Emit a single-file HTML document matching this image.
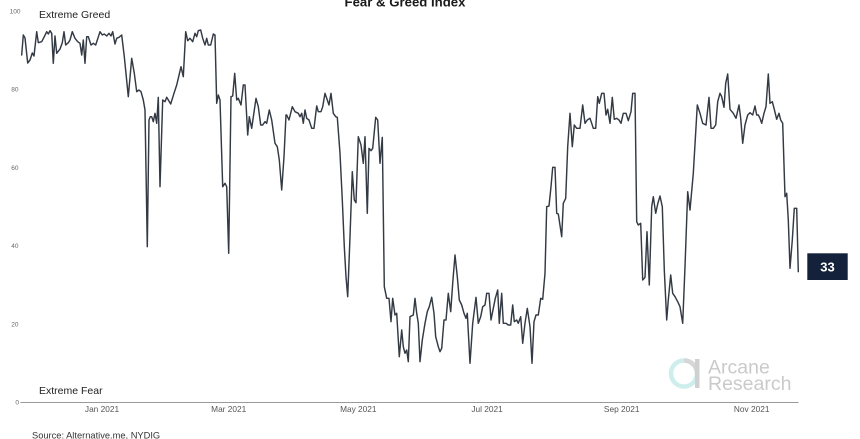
<!DOCTYPE html>
<html>
<head>
<meta charset="utf-8">
<style>
  html, body { margin:0; padding:0; background:#ffffff; }
  body { width:860px; height:439px; overflow:hidden; }
  svg { display:block; }
  text { font-family: "Liberation Sans", "DejaVu Sans", sans-serif; }
</style>
</head>
<body>
<svg width="860" height="439" viewBox="0 0 860 439" xmlns="http://www.w3.org/2000/svg">
  <rect x="0" y="0" width="860" height="439" fill="#ffffff"/>

  <!-- Title (cut at top) -->
  <text x="405" y="6.5" font-size="13.2" font-weight="bold" fill="#1b1b1b" text-anchor="middle">Fear &amp; Greed Index</text>

  <!-- Y axis labels -->
  <g font-size="6.5" fill="#666" text-anchor="end">
    <text x="20.5" y="13.3">100</text>
    <text x="18.5" y="91.5">80</text>
    <text x="18.5" y="169.8">60</text>
    <text x="18.5" y="248">40</text>
    <text x="18.5" y="326.3">20</text>
    <text x="19" y="404.7">0</text>
  </g>

  <!-- Zone labels -->
  <text x="39" y="17.8" font-size="10.5" fill="#222">Extreme Greed</text>
  <text x="39" y="393.8" font-size="10.5" fill="#222">Extreme Fear</text>

  <!-- Watermark -->
  <g>
    <circle cx="684" cy="373.5" r="13" fill="none" stroke="#cdeeed" stroke-width="4.5"/>
    <path d="M 684 360.5 A 13 13 0 0 1 697 373.5" fill="none" stroke="#d6d6d6" stroke-width="4.5"/>
    <rect x="695" y="359" width="4.5" height="29" fill="#d0d0d0"/>
    <text x="708" y="373.5" font-size="19.5" fill="#cacaca">Arcane</text>
    <text x="708" y="390" font-size="19.5" fill="#cacaca">Research</text>
  </g>

  <!-- X axis -->
  <line x1="20.5" y1="402.5" x2="798.5" y2="402.5" stroke="#9a9a9a" stroke-width="1"/>
  <g font-size="8.3" fill="#555" text-anchor="middle">
    <text x="102" y="412">Jan 2021</text>
    <text x="228.7" y="412">Mar 2021</text>
    <text x="358.3" y="412">May 2021</text>
    <text x="487" y="412">Jul 2021</text>
    <text x="621.7" y="412">Sep 2021</text>
    <text x="751.7" y="412">Nov 2021</text>
  </g>

  <!-- Source -->
  <text x="32" y="438.5" font-size="9.3" fill="#333">Source: Alternative.me, NYDIG</text>

  <!-- Series -->
  <polyline fill="none" stroke="#333a44" stroke-width="1.45" stroke-linejoin="round" stroke-linecap="round" points="
21.7,55 23.3,35 25,38 27.7,63 30,60 32.3,53 34,56 36.7,31.7 38.3,42.7 41.7,41.7 44.3,36.7 46.7,31.7 48.3,34 50,30.7 51.7,33.3 53.3,63.3 55,36 56.7,53.3 60,49 62.3,42.7 64,31.7 65.7,45 68.3,42.7 70,40 72.3,31.7 75,38.3 77.7,41.7 80,43.3 81.7,55 83.3,40 85,63.3 86.7,36.7 88.3,36.7 91,45 93.3,43.3 95.7,45 100,31.7 102.3,35 104.3,34 106.7,36 109,33.3 111,36 112.7,31.7 115,44 116.7,38.3 119,37.3 121.7,35 124.3,56.7 128.3,96.7 131.7,58.3 134.3,73.3 136.7,91.7 139,90 141,91.7 143.3,100 145,110 147.3,246.7 149,120 150.3,116.7
151.7,116.7 153.3,121.7 155,113.3 156.7,123.3 158.3,97.3 160,186.7 162.7,100 165,101.7 166.7,97.3 170.7,104 174,93.3 176.7,85 178.3,78.3 181,66.7 183.3,76.7 185.7,31.7 187.7,40.7 190,38.3 192.7,41.7 195,33.3 196.7,36.7 198.3,30.7 200.7,30 202.7,38.3 205,45 206.7,38.3 208.3,45 210.7,45 213.3,34 215,35 216.7,103.3 218.3,95 220,100 222.7,186.7 225,183.3 226.7,186.7 228.7,253.3 231,96.7 232.7,96 234.7,73.3 236.7,100 238.3,98.3 241,105 243.3,85 245,85 247.7,135 249.3,116.7 251.7,128.3 256,98.3 258.3,106.7 260.7,125 262.7,125 265,121.7 266.7,123.3 269.3,110 271.7,120 275,143.3 277.3,146.7 279.3,160 281.7,190 284,156.7 286,115
286.7,115 289,120 292.3,106.7 295,111.7 298.3,113.3 300,116.7 301.7,113.3 303.3,123.3 305,110 306.7,118.3 309,120 311.7,128.3 314,128.3 316.7,106 318.3,111.7 321,111.7 322.7,106.7 325,93.3 327.3,100 329,105 331,93.3 333.3,113.3 335.7,116.7 337.3,117.3 340,153.3 342.3,200 344.3,246.7 346,276.7 347.7,296.7 350,236.7 352.3,171.7 354.3,200 356,202.7 358.3,136.7 361,145 363.3,163.3 365,136.7 367.3,213.3 369,148.3 371,150.7 372.7,148.3 375.7,117.3 377.7,120 380,163.3 382.3,137.3 384.3,286.7 386.7,298.3 389,298.3 391,321.7 392.7,298.3 395,315 396.7,313.3 399.3,356.7 401.7,330 403.3,346.7 405,353.3 406.7,350 408.3,361.7 410,316.7 413.3,315 415,298.3 416.7,313.3 418.3,323.3 420,361.7 422.3,340
425,323.3 427.3,311.7 429.3,306.7 431.7,297.3 434,313.3 435.7,336.7 438.3,346.7 440,351.7 441.7,348.3 444,320 446,320 448.3,293.3 450.7,311.7 452.7,283.3 455,255 457.3,276.7 459.3,300 461.7,305 464,313.3 466,318.3 467.3,313.3 470,363.3 472.7,323.3 476,297.3 478.3,323.3 480.7,316.7 482.7,306.7 485,305 486.7,293.3 489,293.3 491,320 493.3,308.3 495.3,298.3 497.7,290 499.3,323.3 501.7,293.3 503.3,323.3 506,323.3 508.3,325 510.7,325 512.7,305 514.3,321.7 516.7,320 518.3,323.3 520.7,316.7 522.7,343.3 525,323.3 527.3,308.3 530,326.7 532,363.3 534,321.7 536,315 538.3,315 540.7,298.3 542.7,299.3 545,273.3 546.7,206.7 549,206 551,186.7 552.7,167.3 555,167.3
556.7,213.3 558.3,214 561.7,236.7 563.3,203.3 565.7,198.3 567.7,146.7 570,113.3 572.3,146.7 574.3,125 576.7,128.3 580,128.3 582.7,105 585,123.3 587.3,120 590,118.3 591.7,123.3 593.3,128.3 595.7,128.3 597.7,96.7 599.3,103.3 601.7,93.3 604,93.3 606,115 607.7,109.3 610,123.3 612.3,97.3 614.3,119.3 616.7,118.3 619,120 621,123.3 623.3,113.3 626,113.3 628.3,120.7 631,111.7 632.7,93.3 635,93.3 636.7,221.7 638.3,225 640.7,223.3 642.7,280 645,277.3 647,231.7 649.3,285 651.7,206.7 653.3,196.7 655.7,213.3 657.7,204 660,196 662.3,206.7 664.3,270 666.7,320 668.3,300 670.7,275 672.7,293.3 675,296.7 677.7,301.7 680,306.7 682.7,323.3
685,266.7 687.7,191.7 690,210 693.3,173.3 697.3,105 700,113.3 702.7,123.3 706,125 709,97.3 711,128.3 713.3,128.3 715.7,125 717.7,101.7 720,93.3 721.7,96.7 724,107.3 725.7,83.3 727.7,74 730,109.3 733.3,113.3 736,118.3 739,105 740.7,118.3 742.7,143.3 745,125 747.7,115 750,112.7 752.7,115 755,106 756.7,115 758.3,115 760,118.3 761.7,123.3 764,113.3 766,106.7 768.3,74 770,103.3 772.3,101.7 774.3,109.3 776.7,119.3 779,113.3 780.7,120 782.7,123.3 785,196.7 786.7,193.3 788.3,220 790,268.3 792.3,240 794.3,208.3 796.7,208.3 798.3,271.7
"/>

  <!-- Last value label -->
  <rect x="807.3" y="253.3" width="40.4" height="26.7" fill="#14213a"/>
  <text x="827.5" y="271.5" font-size="13" font-weight="bold" fill="#ffffff" text-anchor="middle">33</text>
</svg>
</body>
</html>
